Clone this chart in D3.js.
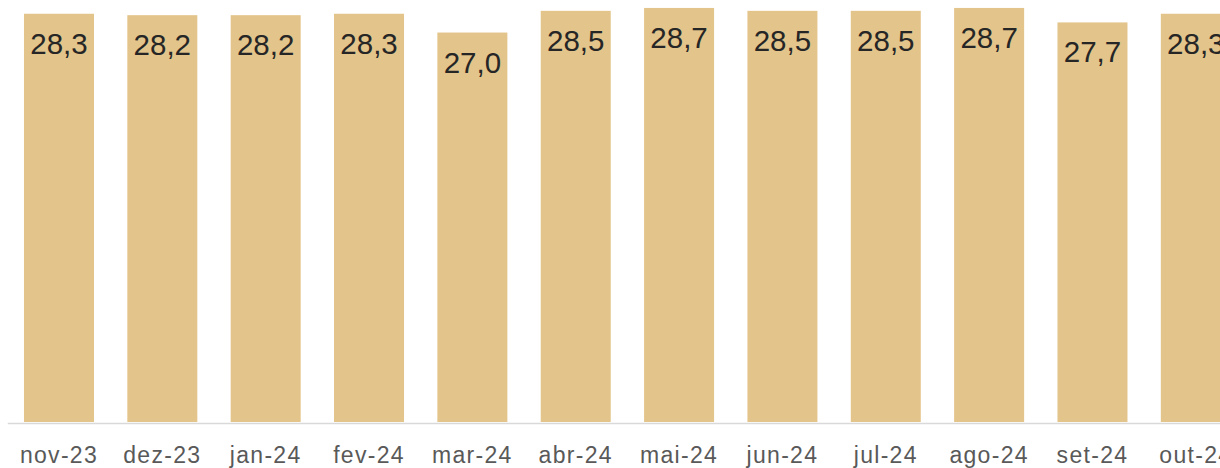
<!DOCTYPE html>
<html>
<head>
<meta charset="utf-8">
<script src="https://cdn.jsdelivr.net/npm/d3@7"></script>
<style>
  body { margin: 0; background: #fff; }
  svg { display: block; font-family: "Liberation Sans", Arial, sans-serif; }
  .axis path { stroke: #d9d9d9; stroke-width: 1.5px; }
  .axis text { fill: #595959; font-size: 23px; letter-spacing: 1.3px; }
  .val { fill: #262626; font-size: 29.5px; }
</style>
</head>
<body>
<script>
// months shown on the x axis
var months = ["nov-23", "dez-23", "jan-24", "fev-24", "mar-24", "abr-24",
              "mai-24", "jun-24", "jul-24", "ago-24", "set-24", "out-24"];
// values per month
var values = [28.3, 28.2, 28.2, 28.3, 27.0, 28.5, 28.7, 28.5, 28.5, 28.7, 27.7, 28.3];

var width = 1220, height = 468;
var baseY = 423;

var svg = d3.select("body").append("svg")
    .attr("width", width)
    .attr("height", height);

// the last bar runs off the right edge, like the reference
var x = d3.scaleBand()
    .domain(months)
    .range([7.3, 7.3 + 12 * 103.35])
    .paddingInner(0.3227)
    .paddingOuter(0.16135);

var y = d3.scaleLinear().domain([0, 29.25]).range([baseY, 0]);

var fmt = function (v) { return v.toFixed(1).replace(".", ","); };

svg.append("g")
    .attr("class", "axis")
    .attr("transform", "translate(0," + baseY + ")")
    .call(d3.axisBottom(x).tickSize(0).tickSizeOuter(0).tickPadding(0))
    .call(function (g) {
        g.selectAll("text")
            .attr("dy", null)
            .attr("y", 40)
            .style("font-family", "'Liberation Sans', Arial, sans-serif");
    });

var data = months.map(function (m, i) { return {m: m, v: values[i]}; });

svg.selectAll("rect.bar")
    .data(data)
    .enter().append("rect")
    .attr("class", "bar")
    .attr("x", function (d) { return x(d.m); })
    .attr("width", x.bandwidth())
    .attr("y", function (d) { return y(d.v); })
    .attr("height", function (d) { return baseY - 1 - y(d.v); })
    .attr("fill", "#e3c48a");

svg.selectAll("text.val")
    .data(data)
    .enter().append("text")
    .attr("class", "val")
    .attr("text-anchor", "middle")
    .attr("x", function (d) { return x(d.m) + x.bandwidth() / 2; })
    .attr("y", function (d) { return y(d.v) + 40; })
    .text(function (d) { return fmt(d.v); });
</script>
</body>
</html>
